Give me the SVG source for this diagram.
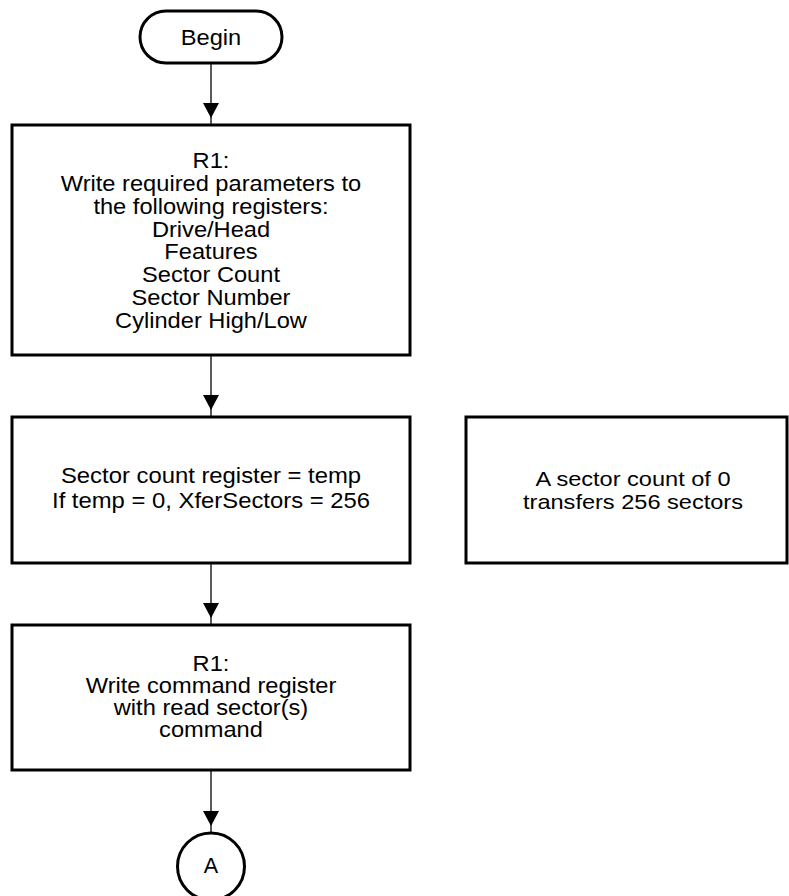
<svg xmlns="http://www.w3.org/2000/svg" width="789" height="896" viewBox="0 0 789 896">
  <style>
    .shape { fill: #fff; stroke: #000; stroke-width: 3; }
    .wire { fill: none; stroke: #000; stroke-width: 1.3; }
    .label { font-family: "Liberation Sans", Arial, Helvetica, sans-serif; font-size: 21.5px; fill: #000; text-anchor: middle; }
    .label-lg { font-size: 22.5px; }
    .label-sm { font-size: 20.5px; }
  </style>
  <defs>
    <marker id="arrow" markerUnits="userSpaceOnUse" viewBox="0 0 22 16" markerWidth="22" markerHeight="16" refX="22" refY="8" orient="auto">
      <path d="M0,0 L15,8 L0,16 Z" fill="#000"/>
    </marker>
  </defs>

  <rect width="789" height="896" fill="#fff"/>

  <!-- connectors -->
  <g id="connectors">
    <path class="wire" d="M211,63 V125" marker-end="url(#arrow)"/>
    <path class="wire" d="M211,355 V417" marker-end="url(#arrow)"/>
    <path class="wire" d="M211,563 V625" marker-end="url(#arrow)"/>
    <path class="wire" d="M211,770 V833" marker-end="url(#arrow)"/>
  </g>

  <!-- start terminal -->
  <g id="begin">
    <rect class="shape" x="140" y="11" width="142" height="52" rx="26" ry="26"/>
    <text class="label" transform="translate(211 0) scale(1.1 1)" x="0" y="45">Begin</text>
  </g>

  <!-- register setup -->
  <g id="write-params">
    <rect class="shape" x="12" y="125" width="398" height="230"/>
    <g class="label" transform="translate(211 0) scale(1.1 1)">
      <text x="0" y="168">R1:</text>
      <text x="0" y="191">Write required parameters to</text>
      <text x="0" y="214">the following registers:</text>
      <text x="0" y="237">Drive/Head</text>
      <text x="0" y="259">Features</text>
      <text x="0" y="282">Sector Count</text>
      <text x="0" y="305">Sector Number</text>
      <text x="0" y="328">Cylinder High/Low</text>
    </g>
  </g>

  <!-- sector count -->
  <g id="sector-count">
    <rect class="shape" x="12" y="417" width="398" height="146"/>
    <g class="label label-lg" transform="translate(211 0) scale(1.06 1)">
      <text x="0" y="483">Sector count register = temp</text>
      <text x="0" y="508">If temp = 0, XferSectors = 256</text>
    </g>
  </g>

  <!-- note -->
  <g id="note">
    <rect class="shape" x="466" y="417" width="321" height="146"/>
    <g class="label label-sm" transform="translate(633 0) scale(1.15 1)">
      <text x="0" y="486">A sector count of 0</text>
      <text x="0" y="509">transfers 256 sectors</text>
    </g>
  </g>

  <!-- command write -->
  <g id="write-command">
    <rect class="shape" x="12" y="625" width="398" height="145"/>
    <g class="label" transform="translate(211 0) scale(1.1 1)">
      <text x="0" y="671">R1:</text>
      <text x="0" y="693">Write command register</text>
      <text x="0" y="715">with read sector(s)</text>
      <text x="0" y="737">command</text>
    </g>
  </g>

  <!-- off-page connector -->
  <g id="connector-a">
    <circle class="shape" cx="211" cy="866.5" r="33.5"/>
    <text class="label" x="211" y="873">A</text>
  </g>
</svg>
